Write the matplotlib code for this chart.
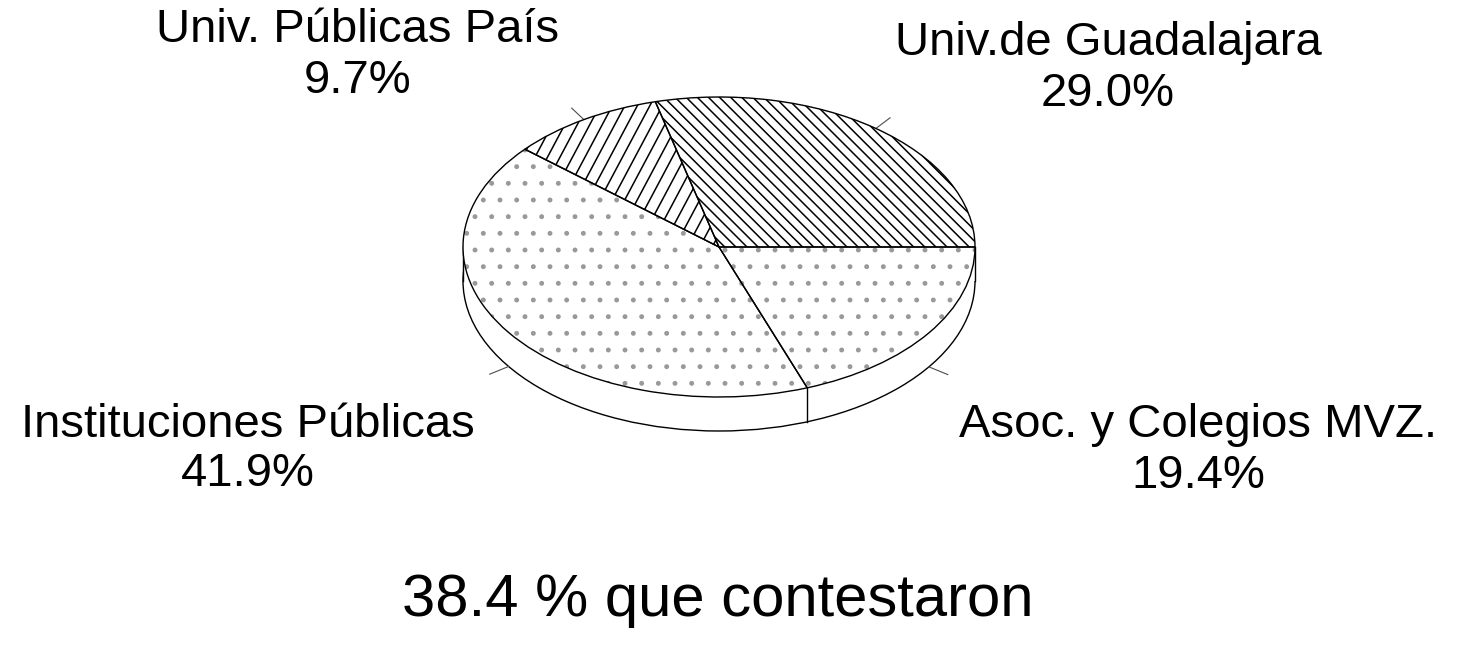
import numpy as np
import matplotlib
matplotlib.use("Agg")
import matplotlib.pyplot as plt
from matplotlib.patches import Ellipse, Rectangle
from matplotlib.collections import LineCollection

# ---- data ----
categories = ["Univ.de Guadalajara", "Univ. Públicas País",
              "Instituciones Públicas", "Asoc. y Colegios MVZ."]
values = [29.0, 9.7, 41.9, 19.4]
pct_labels = ["29.0%", "9.7%", "41.9%", "19.4%"]
caption = "38.4 % que contestaron"

hatches = ["\\\\\\", "", ".", "."]
hatch_colors = ["black", "black", "0.6", "0.6"]

plt.rcParams['font.family'] = ['Liberation Sans', 'DejaVu Sans']
plt.rcParams['hatch.linewidth'] = 1.1

W, H = 1460, 646
fig = plt.figure(figsize=(W / 100, H / 100), dpi=100)
fig.patch.set_facecolor("white")

# pie geometry (pixels)
cx, cy, rx, ry, depth = 719, 247, 256, 150, 34
xl, xh, yl, yh = -1.3, 1.3, -1.5, 1.2
left_px = cx + xl * rx
ax = fig.add_axes([left_px / W, (H - (cy - yl * ry)) / H,
                   (xh - xl) * rx / W, (yh - yl) * ry / H])
d = depth / ry

lw = 1.0
# side (cylinder wall)
ax.add_patch(Ellipse((0, -d), 2, 2, facecolor="white", edgecolor="black",
                     lw=lw, zorder=1))
ax.add_patch(Rectangle((-1, -d), 2, d, facecolor="white", edgecolor="none",
                       zorder=2))
ax.plot([-1, -1], [0, -d], color="black", lw=lw, zorder=3)
ax.plot([1, 1], [0, -d], color="black", lw=lw, zorder=3)

total = sum(values)
cum = np.cumsum([0] + values) / total * 360.0
for a in cum[1:-1]:
    t = np.deg2rad(a)
    if np.sin(t) < 0:
        ax.plot([np.cos(t), np.cos(t)], [np.sin(t), np.sin(t) - d],
                color="black", lw=lw, zorder=3)

# top face: hatch layer
wedges, _ = ax.pie(values, startangle=0, counterclock=True, radius=1.0,
                   wedgeprops=dict(linewidth=0, facecolor="white"))
for w, h, c in zip(wedges, hatches, hatch_colors):
    if h:
        w.set_hatch(h)
    w.set_edgecolor(c)
    w.set_zorder(4)

# steep "/" hatching for the second slice, clipped to its wedge
slope = np.tan(np.deg2rad(62)) * rx / ry      # in data units
step = 12.5 / rx
x0s = np.arange(-2.5, 1.5, step)
segs = [[(x0, -1.2), (x0 + 2.4 / slope, 1.2)] for x0 in x0s]
lc = LineCollection(segs, colors="black", linewidths=1.1, zorder=4.5)
ax.add_collection(lc)
lc.set_clip_path(wedges[1])

# outline layer
wedges2, _ = ax.pie(values, startangle=0, counterclock=True, radius=1.0,
                    wedgeprops=dict(linewidth=lw, edgecolor="black", fill=False))
for w in wedges2:
    w.set_zorder(5)

# leader ticks at slice mid-angles
for i in range(len(values)):
    m = np.deg2rad((cum[i] + cum[i + 1]) / 2)
    off = d if np.sin(m) < 0 else 0
    r0, r1 = 1.0, 1.09
    ax.plot([r0 * np.cos(m), r1 * np.cos(m)],
            [r0 * np.sin(m) - off, r1 * np.sin(m) - off],
            color="0.3", lw=0.8, zorder=3)

ax.set_aspect("auto")
ax.set_xlim(xl, xh)
ax.set_ylim(yl, yh)
ax.axis("off")

# labels: (x center, baseline of name, baseline of percentage) in pixels
label_pos = {
    "Univ.de Guadalajara": (1108, 55, 106),
    "Univ. Públicas País": (358, 42, 93),
    "Instituciones Públicas": (248, 437, 486),
    "Asoc. y Colegios MVZ.": (1198, 437, 488),
}
fs = 34
for name, pct in zip(categories, pct_labels):
    x, y1, y2 = label_pos[name]
    fig.text(x / W, 1 - y1 / H, name, ha="center", va="baseline", fontsize=fs)
    fig.text(x / W, 1 - y2 / H, pct, ha="center", va="baseline", fontsize=fs)

fig.text(718 / W, 1 - 616 / H, caption, ha="center", va="baseline", fontsize=43)

fig.savefig("out.png", dpi=100, facecolor="white")
